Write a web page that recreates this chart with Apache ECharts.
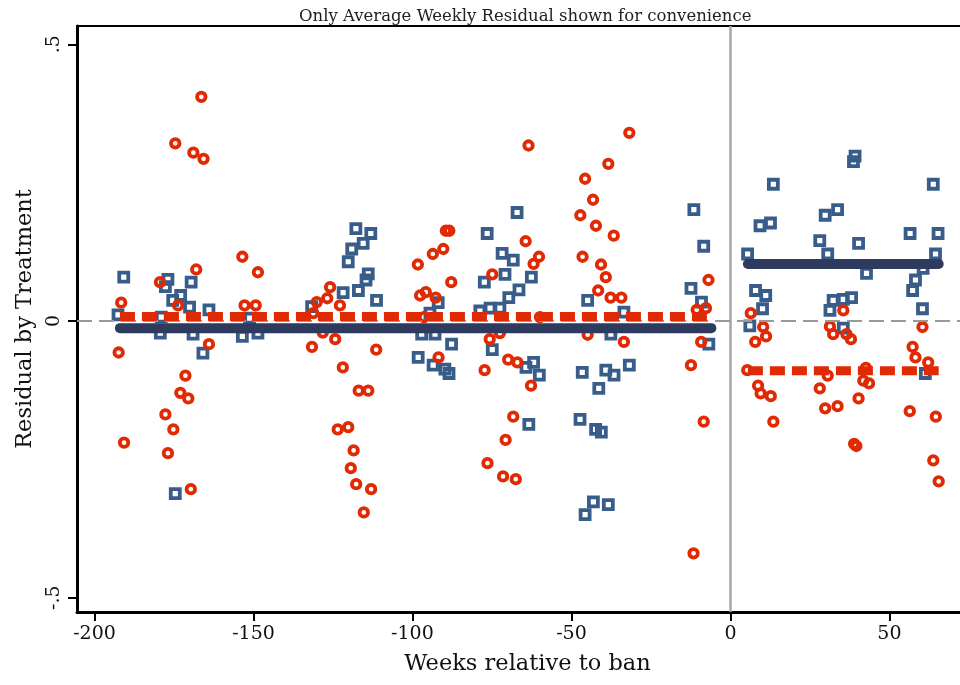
<!DOCTYPE html>
<html><head><meta charset="utf-8">
<script src="https://cdn.jsdelivr.net/npm/echarts@6/dist/echarts.min.js"></script>
<style>html,body{margin:0;padding:0;background:#fff}#c{width:960px;height:685px}</style>
</head><body><div id="c"></div>
<script>
// ---- data ----
const xTicks = [-200, -150, -100, -50, 0, 50];
const yTicks = [-0.5, 0, 0.5];
const yTickLabels = ['-.5', '0', '.5'];

// red hollow circles: [week, residual]
const circlePoints = [
[-166.4,0.405],[-174.6,0.321],[-168.9,0.304],[-165.7,0.293],[-153.5,0.116],[-148.6,0.088],[-168.0,0.093],[-179.4,0.070],[-191.6,0.033],[-173.7,0.028],[-152.8,0.028],[-149.3,0.028],
[-89.5,0.163],[-88.4,0.163],[-90.3,0.130],[-93.6,0.121],[-98.3,0.102],[-87.8,0.070],[-74.9,0.084],[-125.9,0.061],[-126.8,0.041],[-130.1,0.034],[-122.8,0.028],[-97.6,0.046],[-95.8,0.052],[-92.7,0.042],[-131.2,0.014],[-96.4,0.007],
[-31.8,0.340],[-63.5,0.317],[-38.4,0.284],[-45.7,0.257],[-43.2,0.219],[-47.2,0.191],[-42.3,0.172],[-36.7,0.154],[-64.4,0.144],[-60.2,0.116],[-61.9,0.103],[-46.5,0.116],[-40.7,0.102],[-39.2,0.079],[-41.6,0.055],[-37.7,0.042],[-34.3,0.042],[-6.9,0.074],[-10.6,0.020],[-7.7,0.023],[-59.9,0.007],
[6.4,0.014],[35.5,0.019],[10.3,-0.011],[31.3,-0.010],[60.4,-0.011],
[-192.4,-0.057],[-164.0,-0.042],[-171.4,-0.099],[-173.0,-0.130],[-170.5,-0.140],[-177.7,-0.169],[-175.2,-0.196],[-190.7,-0.220],[-176.9,-0.239],[-169.7,-0.304],
[-131.6,-0.047],[-124.3,-0.033],[-111.4,-0.052],[-121.9,-0.084],[-116.9,-0.126],[-113.9,-0.126],[-123.5,-0.196],[-120.2,-0.192],[-118.5,-0.234],[-119.4,-0.266],[-117.7,-0.295],[-113.0,-0.304],[-115.3,-0.346],
[-91.8,-0.066],[-77.3,-0.089],[-75.7,-0.033],[-69.9,-0.070],[-67.0,-0.075],[-68.3,-0.173],[-70.7,-0.215],[-76.4,-0.257],[-71.5,-0.281],[-67.5,-0.286],[-128.2,-0.021],[-72.5,-0.022],
[-62.7,-0.117],[-33.5,-0.038],[-9.2,-0.038],[-12.4,-0.080],[-8.4,-0.182],[-11.6,-0.420],[-44.9,-0.025],
[5.3,-0.089],[11.2,-0.028],[7.8,-0.038],[8.7,-0.117],[9.5,-0.131],[12.7,-0.136],[13.5,-0.182],[32.3,-0.024],[36.5,-0.024],[37.9,-0.033],[30.6,-0.099],[28.1,-0.122],[29.8,-0.158],[33.7,-0.154],[40.3,-0.140],[42.6,-0.085],[41.8,-0.108],[43.6,-0.113],[38.9,-0.222],[39.6,-0.226],[57.3,-0.047],[58.2,-0.066],[62.2,-0.075],[56.4,-0.163],[64.6,-0.173],[63.8,-0.252],[65.5,-0.290]
];

// blue hollow squares: [week, residual]
const squarePoints = [
[-190.8,0.079],[-176.9,0.075],[-177.7,0.062],[-169.6,0.070],[-172.9,0.046],[-175.4,0.037],[-170.1,0.025],[-164.0,0.020],[-192.6,0.011],[-179.0,0.007],[-151.2,0.005],
[-117.8,0.167],[-113.1,0.158],[-115.5,0.140],[-119.1,0.130],[-120.2,0.107],[-113.9,0.085],[-114.6,0.074],[-117.0,0.055],[-121.8,0.051],[-111.3,0.037],[-131.7,0.026],[-91.9,0.033],[-94.5,0.014],
[-67.1,0.196],[-76.5,0.158],[-71.8,0.122],[-68.3,0.110],[-70.9,0.084],[-77.4,0.070],[-69.7,0.042],[-66.5,0.056],[-75.6,0.023],[-72.5,0.023],[-78.8,0.018],
[-11.5,0.201],[-8.4,0.135],[-62.6,0.079],[-12.4,0.059],[-44.9,0.037],[-9.1,0.034],[-33.5,0.016],
[39.2,0.298],[38.7,0.288],[13.5,0.247],[63.8,0.247],[33.7,0.201],[29.8,0.191],[9.3,0.172],[12.6,0.177],[28.1,0.145],[40.3,0.140],[56.5,0.158],[65.3,0.158],[5.4,0.121],[30.6,0.121],[64.5,0.121],[42.8,0.086],[60.6,0.095],[58.2,0.074],[57.3,0.055],[7.9,0.055],[11.1,0.046],[10.1,0.022],[32.3,0.037],[31.3,0.019],[35.5,0.039],[38.1,0.042],[60.4,0.022],[6.1,-0.009],[35.5,-0.013],
[-165.9,-0.058],[-174.6,-0.312],[-169.0,-0.024],[-153.5,-0.028],[-148.6,-0.022],[-179.3,-0.022],
[-98.2,-0.066],[-87.7,-0.042],[-93.5,-0.080],[-89.8,-0.087],[-88.5,-0.095],[-74.9,-0.052],[-97.1,-0.024],[-92.9,-0.024],
[-61.9,-0.075],[-64.3,-0.084],[-60.1,-0.098],[-46.6,-0.093],[-39.2,-0.089],[-36.6,-0.098],[-31.8,-0.080],[-41.4,-0.122],[-63.4,-0.187],[-47.3,-0.178],[-42.4,-0.196],[-40.6,-0.201],[-43.1,-0.327],[-38.4,-0.332],[-45.7,-0.350],[-6.8,-0.042],[-37.6,-0.024],
[61.3,-0.095]
];

// average weekly residual lines
const preWeeks = [-192, -6];
const postWeeks = [5.5, 65.5];
const squareMeanPre = -0.013;
const squareMeanPost = 0.103;
const circleMeanPre = 0.008;
const circleMeanPost = -0.090;

// ---- chart ----
const FONT = 'DejaVu Serif';
const BLUE = '#395d8a';
const RED = '#e02a03';
const NAVY = '#2e3a5e';
const X_MIN = -205.5, X_MAX = 72.2, Y_MIN = -0.526, Y_MAX = 0.533;

const seg = (weeks, v) => weeks.map(w => [w, v]);

const chart = echarts.init(document.getElementById('c'), null, {renderer: 'canvas'});
chart.setOption({
  animation: false,
  backgroundColor: '#fff',
  title: {
    text: 'Only Average Weekly Residual shown for convenience',
    left: 294, top: 3,
    textStyle: {fontFamily: FONT, fontSize: 16.5, fontWeight: 'normal', color: '#222'}
  },
  grid: {left: 77, right: 0, top: 26, bottom: 73},
  xAxis: [{
    type: 'value', min: X_MIN, max: X_MAX, position: 'bottom',
    axisLine: {show: true, onZero: false, lineStyle: {color: '#000', width: 3}},
    axisTick: {show: true, customValues: xTicks, length: 9, lineStyle: {color: '#000', width: 2}},
    axisLabel: {customValues: xTicks, fontFamily: FONT, fontSize: 19, color: '#111', margin: 13},
    splitLine: {show: false},
    name: 'Weeks relative to ban', nameLocation: 'middle', nameGap: 41,
    nameTextStyle: {fontFamily: FONT, fontSize: 22.5, color: '#111', padding: [0, 0, 0, 18]}
  }, {
    type: 'value', min: X_MIN, max: X_MAX, position: 'top',
    axisLine: {show: true, onZero: false, lineStyle: {color: '#000', width: 2}},
    axisTick: {show: false}, axisLabel: {show: false}, splitLine: {show: false}
  }],
  yAxis: {
    type: 'value', min: Y_MIN, max: Y_MAX,
    axisLine: {show: true, onZero: false, lineStyle: {color: '#000', width: 3}},
    axisTick: {show: true, customValues: yTicks, length: 9, lineStyle: {color: '#000', width: 2}},
    axisLabel: {
      customValues: yTicks, rotate: 90, fontFamily: FONT, fontSize: 19, color: '#111', margin: 13,
      formatter: v => { const i = yTicks.findIndex(t => Math.abs(t - v) < 1e-9); return i >= 0 ? yTickLabels[i] : ''; }
    },
    splitLine: {show: false},
    name: 'Residual by Treatment', nameLocation: 'middle', nameGap: 33,
    nameTextStyle: {fontFamily: FONT, fontSize: 22.5, color: '#111'}
  },
  series: [
    {
      type: 'scatter', name: 'squares', data: squarePoints, symbol: 'rect', symbolSize: 9,
      itemStyle: {color: 'rgba(255,255,255,0)', borderColor: BLUE, borderWidth: 3.8, opacity: 1},
      z: 3,
      markLine: {
        silent: true, symbol: 'none', label: {show: false}, animation: false,
        data: [
          {xAxis: 0, lineStyle: {color: '#a6a6a6', width: 2.5, type: 'solid'}},
          {yAxis: 0, lineStyle: {color: '#9a9a9a', width: 2, type: [15, 7]}}
        ]
      }
    },
    {
      type: 'scatter', name: 'circles', data: circlePoints, symbol: 'circle', symbolSize: 8.5,
      itemStyle: {color: 'rgba(255,255,255,0)', borderColor: RED, borderWidth: 3.8, opacity: 1},
      z: 3
    },
    {type: 'line', data: seg(preWeeks, squareMeanPre), symbol: 'none', z: 5,
      lineStyle: {color: NAVY, width: 10, cap: 'round'}},
    {type: 'line', data: seg(postWeeks, squareMeanPost), symbol: 'none', z: 5,
      lineStyle: {color: NAVY, width: 10, cap: 'round'}},
    {type: 'line', data: seg(preWeeks, circleMeanPre), symbol: 'none', z: 6,
      lineStyle: {color: RED, width: 9, type: [15, 7], cap: 'butt'}},
    {type: 'line', data: seg(postWeeks, circleMeanPost), symbol: 'none', z: 6,
      lineStyle: {color: RED, width: 9, type: [15, 7], cap: 'butt'}}
  ]
});
</script>
</body></html>
